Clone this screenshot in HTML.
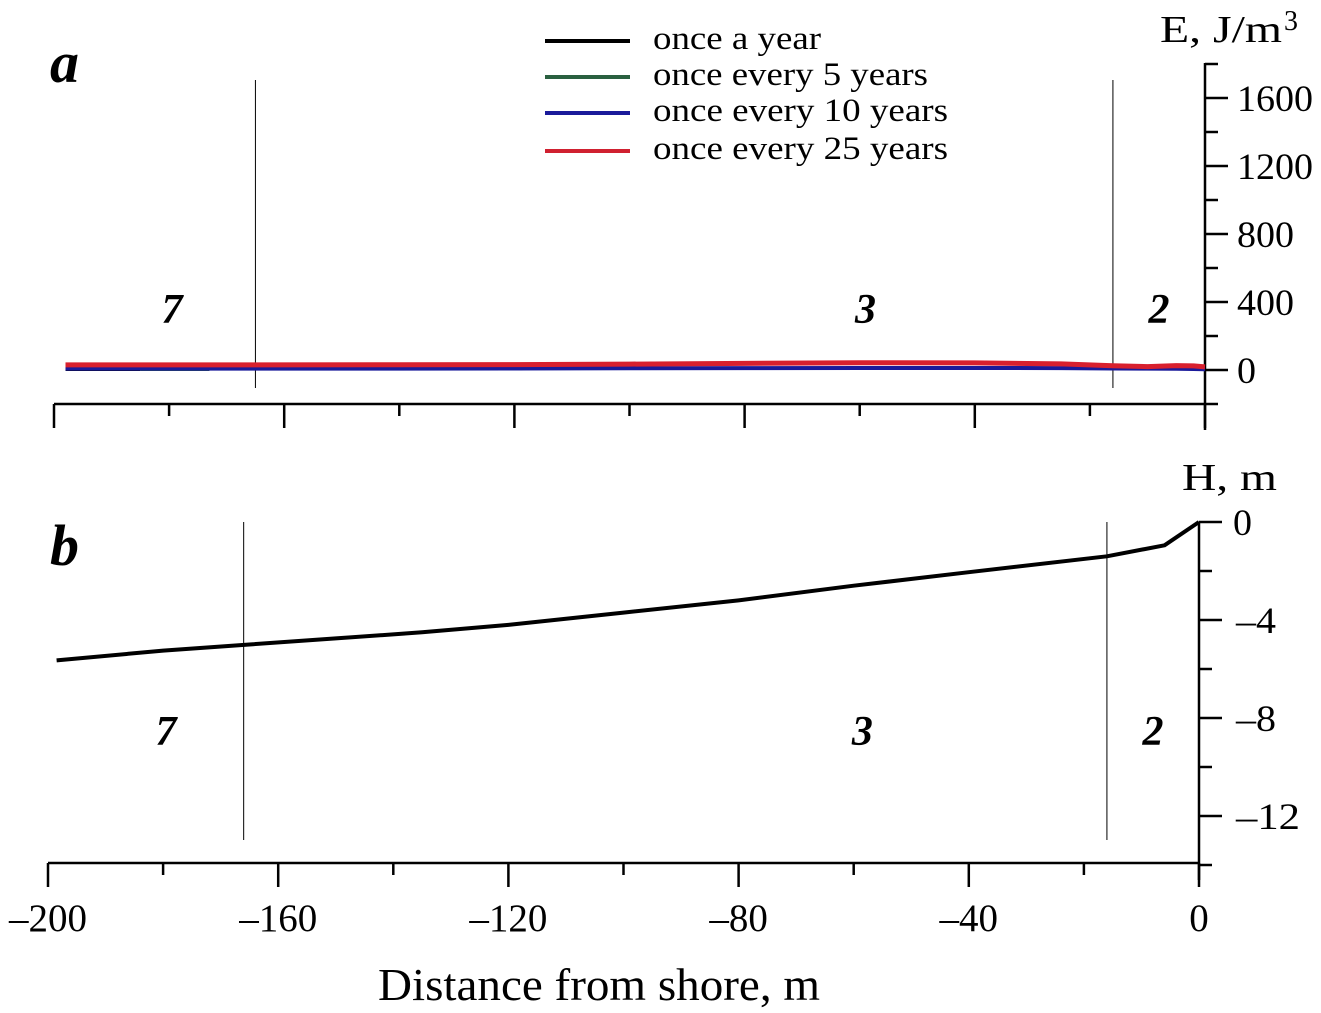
<!DOCTYPE html>
<html><head><meta charset="utf-8"><style>
html,body{margin:0;padding:0;background:#fff;}
svg{display:block;font-family:"Liberation Serif",serif;}
</style></head><body>
<svg id="chart" width="1321" height="1013" viewBox="0 0 1321 1013" xmlns="http://www.w3.org/2000/svg">
<g id="gA"></g>
<g id="gB"></g>
</svg>
<script>
const distX = [-198,-185,-165,-140,-120,-100,-80,-60,-40,-25,-16,-10,-5,-2,0];
const energyRed = [30,30,30,31,32,35,39,43,42,36,25,20,26,24,18];
const energyBlue = [8,8,8,8,9,10,11,12,12,11,9,8,7,6,4];
const energyBlackX = [-198,-185];
const energyBlack = [6,6];
const energyGreenX = [-185,-173];
const energyGreen = [6,6];
const depthX = [-198.5,-180,-165,-150,-135,-120,-100,-80,-60,-40,-16,-6,0];
const depthH = [-5.65,-5.25,-5.0,-4.75,-4.5,-4.2,-3.7,-3.2,-2.6,-2.05,-1.4,-0.95,0];
const eTicks = [0,400,800,1200,1600];
const hTicks = [0,-4,-8,-12];
const xTicks = [-200,-160,-120,-80,-40,0];

const NS="http://www.w3.org/2000/svg";
function el(p,t,a,txt){const e=document.createElementNS(NS,t);for(const k in a)e.setAttribute(k,a[k]);if(txt!==undefined)e.textContent=txt;p.appendChild(e);return e;}
const gA=document.getElementById('gA'), gB=document.getElementById('gB');
const xA=v=>54+(v+200)*(1205-54)/200;
const yA=v=>370-v*(272/1600);
const xB=v=>48+(v+200)*(1199-48)/200;
function yBf(v){return 522+(-v)*24.5;}

let e;
e=el(gA,'line',{x1:1205,y1:63,x2:1205,y2:430,stroke:'#000','stroke-width':2.5});

for(let v=1800;v>=-200;v-=200){const y=yA(v);el(gA,'line',{x1:1205,y1:y,x2:v%400===0?1228:1218,y2:y,stroke:'#000','stroke-width':2.5});}
eTicks.forEach(v=>{const s=String(v);e=el(gA,'text',{x:1237,y:yA(v)+13,'font-size':37,textLength:s.length*19,lengthAdjust:'spacingAndGlyphs'},s);
});
e=el(gA,'text',{x:1160,y:42,'font-size':38,textLength:122,lengthAdjust:'spacingAndGlyphs'},'E, J/m');

el(gA,'text',{x:1284,y:30,'font-size':28},'3');
e=el(gA,'line',{x1:54,y1:404,x2:1205,y2:404,stroke:'#000','stroke-width':2.5});

for(let v=-200;v<=0;v+=20){const x=xA(v);el(gA,'line',{x1:x,y1:404,x2:x,y2:v%40===0?428:416,stroke:'#000','stroke-width':2.5});}
[-165,-16].forEach(v=>{e=el(gA,'line',{x1:xA(v),y1:80,x2:xA(v),y2:388,stroke:'#000','stroke-width':1});
});
e=el(gA,'text',{x:50,y:82,'font-size':58,'font-weight':'bold','font-style':'italic'},'a');

[['7',-179.5],['3',-59],['2',-8]].forEach(([t,v])=>{e=el(gA,'text',{x:xA(v),y:323,'font-size':42,'font-weight':'bold','font-style':'italic','text-anchor':'middle'},t);
});
function series(g,xs,ys,fx,fy,color,w,name){const d=xs.map((v,i)=>(i?'L':'M')+fx(v).toFixed(1)+','+fy(ys[i]).toFixed(1)).join(' ');
const p=el(g,'path',{d:d,fill:'none',stroke:color,'stroke-width':w,'stroke-linejoin':'round'});
}
series(gA,energyBlackX,energyBlack,xA,yA,'#000',4,'series-once-a-year');
series(gA,energyGreenX,energyGreen,xA,yA,'#2a6040',4,'series-5-years');
series(gA,distX,energyBlue,xA,yA,'#1a1a9a',4,'series-10-years');
series(gA,distX,energyRed,xA,yA,'#d8202e',5,'series-25-years');
[['once a year','#000',41,168],['once every 5 years','#2a6040',77,275],['once every 10 years','#1a1a9a',113,295],['once every 25 years','#d02030',151,295]].forEach(([t,c,y,L])=>{
e=el(gA,'line',{x1:545,y1:y,x2:630,y2:y,stroke:c,'stroke-width':4});

e=el(gA,'text',{x:653,y:y+8,'font-size':33,textLength:L,lengthAdjust:'spacingAndGlyphs'},t);
});

e=el(gB,'line',{x1:1199,y1:522,x2:1199,y2:880,stroke:'#000','stroke-width':2.5});

for(let v=0;v>=-14;v-=2){const y=yBf(v);el(gB,'line',{x1:1199,y1:y,x2:v%4===0?1222:1212,y2:y,stroke:'#000','stroke-width':2.5});}
hTicks.forEach(v=>{const s=v===0?'0':'\u2013'+(-v);e=el(gB,'text',{x:v===0?1233:1236,y:yBf(v)+13,'font-size':37,textLength:v===0?19:(s.length===2?40:64),lengthAdjust:'spacingAndGlyphs'},s);
});
e=el(gB,'text',{x:1182,y:490,'font-size':38,textLength:95,lengthAdjust:'spacingAndGlyphs'},'H, m');

e=el(gB,'line',{x1:48,y1:863,x2:1199,y2:863,stroke:'#000','stroke-width':2.5});

for(let v=-200;v<=0;v+=20){const x=xB(v);el(gB,'line',{x1:x,y1:863,x2:x,y2:v%40===0?887:875,stroke:'#000','stroke-width':2.5});}
xTicks.forEach(v=>{const s=v===0?'0':'\u2013'+(-v);e=el(gB,'text',{x:xB(v),y:931,'font-size':39,'text-anchor':'middle'},s);
});
e=el(gB,'text',{x:378,y:1000,'font-size':46,textLength:442,lengthAdjust:'spacingAndGlyphs'},'Distance from shore, m');

[-166,-16].forEach(v=>{e=el(gB,'line',{x1:xB(v),y1:522,x2:xB(v),y2:840,stroke:'#000','stroke-width':1});
});
e=el(gB,'text',{x:50,y:565,'font-size':58,'font-weight':'bold','font-style':'italic'},'b');

[['7',-179.5],['3',-58.5],['2',-8]].forEach(([t,v])=>{e=el(gB,'text',{x:xB(v),y:745,'font-size':42,'font-weight':'bold','font-style':'italic','text-anchor':'middle'},t);
});
series(gB,depthX,depthH,xB,yBf,'#000',4,'depth-profile');
</script>
</body></html>
